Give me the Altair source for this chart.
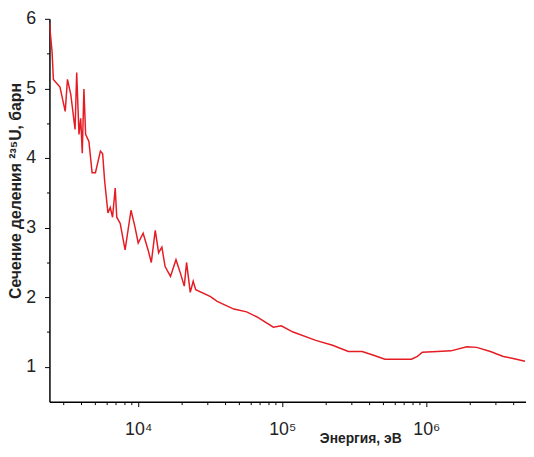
import altair as alt
import pandas as pd

# Energy (eV) and fission cross-section of U-235 (barn)
energy = [2420, 2525, 2577, 2864, 3114, 3228, 3406, 3645, 3741, 3880, 3988, 4090,
          4198, 4315, 4547, 4786, 5047, 5467, 5665, 5848, 6166, 6397, 6637, 6923,
          7100, 7499, 8110, 8913, 9493, 10000, 10820, 11710, 12330, 13130, 13860,
          14600, 15370, 16750, 18290, 19600, 20880, 21660, 22980, 24080, 25080,
          31770, 35320, 46150, 56620, 66340, 86760, 98410, 118900, 170900, 223400,
          287500, 358800, 440500, 515600, 788700, 867400, 939000, 1189000, 1483000,
          1909000, 2235000, 2786000, 3420000, 4007000, 4842000]
sigma = [5.94, 5.52, 5.13, 5.02, 4.67, 5.13, 4.91, 4.41, 5.23, 4.34, 4.57, 4.07,
         4.99, 4.34, 4.24, 3.79, 3.79, 4.10, 4.06, 3.67, 3.21, 3.29, 3.15, 3.57,
         3.15, 3.06, 2.68, 3.25, 3.01, 2.78, 2.92, 2.68, 2.50, 2.96, 2.64,
         2.72, 2.44, 2.30, 2.54, 2.35, 2.16, 2.50, 2.07, 2.23, 2.11,
         2.01, 1.94, 1.83, 1.79, 1.72, 1.57, 1.59, 1.50, 1.38, 1.31,
         1.22, 1.22, 1.16, 1.11, 1.11, 1.15, 1.21, 1.22, 1.23,
         1.29, 1.28, 1.22, 1.15, 1.12, 1.08]

x_ticks = [3000, 4000, 5000, 6000, 7000, 8000, 9000,
           10000, 20000, 30000, 40000, 50000, 60000, 70000, 80000, 90000,
           100000, 200000, 300000, 400000, 500000, 600000, 700000, 800000, 900000,
           1000000, 2000000, 3000000, 4000000, 5000000]
y_ticks = [1, 1.5, 2, 2.5, 3, 3.5, 4, 4.5, 5, 5.5, 6]

df = pd.DataFrame({"E": energy, "S": sigma})

FONT = "Liberation Sans"

x_axis = alt.Axis(
    values=x_ticks,
    labelExpr="datum.value == 10000 ? '10⁴' : datum.value == 100000 ? '10⁵' : datum.value == 1000000 ? '10⁶' : ''",
    tickSize={"condition": {"test": "datum.value == 10000 || datum.value == 100000 || datum.value == 1000000", "value": 5}, "value": 3},
    tickColor="black",
    tickWidth=1,
    domainColor="black",
    domainWidth=1.5,
    grid=False,
    labelFont=FONT,
    labelFontSize=18,
    labelColor="#222222",
    labelPadding=14,
    labelFlush=False,
    labelOverlap=False,
    title="Энергия, эВ",
    titleFont=FONT,
    titleFontSize=14,
    titleFontWeight="bold",
    titleColor="#222222",
    titleX=315,
    titleY=41,
    titleAlign="center",
    titleBaseline="alphabetic",
)

y_axis = alt.Axis(
    values=y_ticks,
    labelExpr="datum.value % 1 == 0 ? format(datum.value, 'd') : ''",
    tickSize={"condition": {"test": "datum.value % 1 == 0", "value": 5}, "value": 3},
    tickColor="black",
    tickWidth=1,
    domainColor="black",
    domainWidth=1.5,
    grid=False,
    labelFont=FONT,
    labelFontSize=18,
    labelColor="#222222",
    labelPadding=9,
    labelFlush=False,
    labelOverlap=False,
    title="Сечение деления ²³⁵U, барн",
    titleFont=FONT,
    titleFontSize=16,
    titleFontWeight="bold",
    titleColor="#222222",
    titleX=-34,
    titleY=174,
    titleAlign="center",
    titleBaseline="middle",
    titleAngle=270,
)

chart = (
    alt.Chart(df)
    .mark_line(color="#e51c23", strokeWidth=1.5, clip=True)
    .encode(
        x=alt.X("E:Q", scale=alt.Scale(type="log", domain=[2420, 4920000], nice=False), axis=x_axis),
        y=alt.Y("S:Q", scale=alt.Scale(domain=[0.5, 6], nice=False, zero=False), axis=y_axis),
    )
    .properties(
        width=483,
        height=388,
        autosize=alt.AutoSizeParams(type="none"),
        padding={"left": 42, "top": 8, "right": 0, "bottom": 45},
    )
    .configure_view(stroke=None)
)

chart.save("out.html", embed_options={"renderer": "svg", "actions": False})
